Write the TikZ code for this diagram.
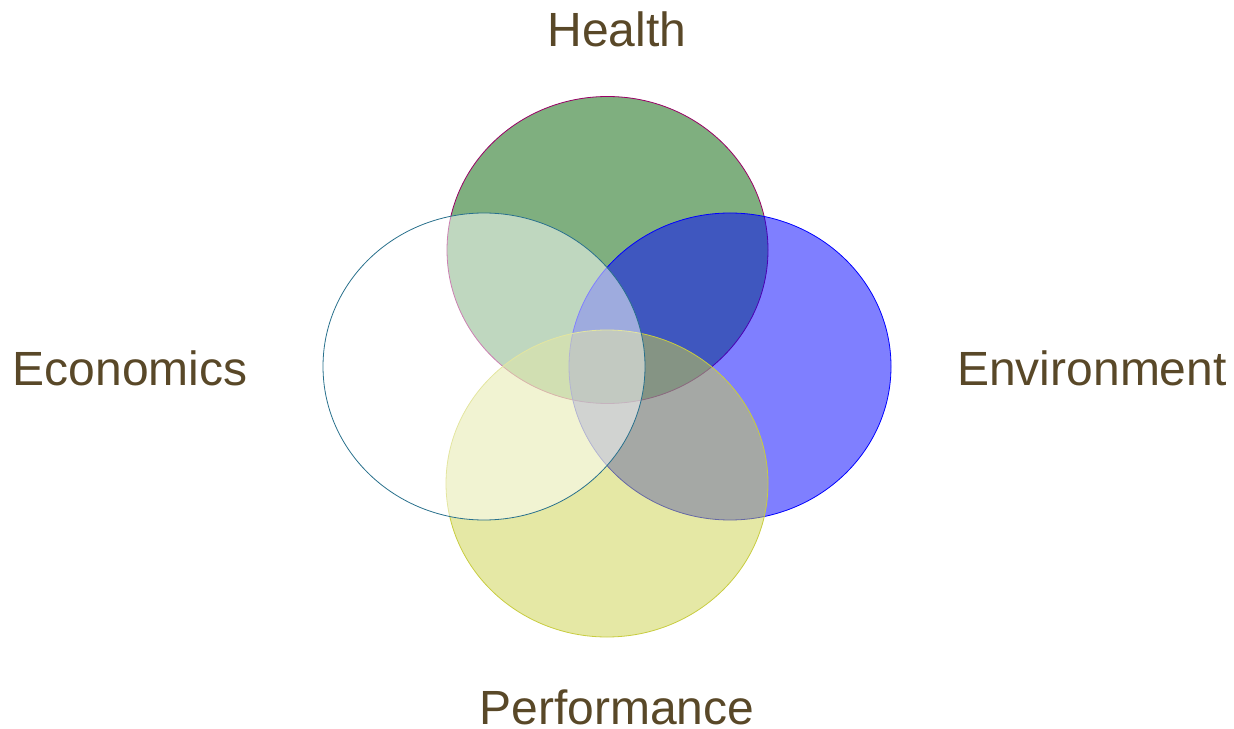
\documentclass[tikz,border=0pt]{standalone}
\usepackage{fontspec}
\setmainfont{Liberation Sans}
\definecolor{labelbrown}{RGB}{89,72,40}
\definecolor{healthgreen}{RGB}{0,96,0}
\definecolor{perfyellow}{RGB}{203,209,75}
\definecolor{perfline}{RGB}{200,204,64}
\definecolor{econteal}{RGB}{40,112,140}
\begin{document}
\begin{tikzpicture}[x=0.5pt,y=0.5pt,
		lbl/.style={anchor=base, text=labelbrown, font=\fontsize{24}{28}\selectfont, inner sep=0pt}]
			\useasboundingbox (0,0) rectangle (1234,728);

			% Health
			\filldraw[fill=healthgreen, fill opacity=0.5, draw=purple!80!blue, thin] (607.5,478) ellipse [x radius=160.5, y radius=153.5];

			% Environment
			\filldraw[fill=blue, fill opacity=0.5, draw=blue, thin] (730,361.5) ellipse [x radius=161, y radius=153.5];

			% Performance
			\filldraw[fill=perfyellow, fill opacity=0.5, draw=perfline, thin] (607,244.5) ellipse [x radius=161, y radius=153.5];

			% Economics
			\filldraw[fill=white, fill opacity=0.5, draw=econteal, thin] (484,361.5) ellipse [x radius=161, y radius=153.5];

			% Labels
			\node[lbl] (health) at (617,681) {Health};
			\node[lbl] (economics) at (130,342) {Economics};
			\node[lbl] (environment) at (1092,342) {Environment};
			\node[lbl] (performance) at (617,4) {Performance};
		\end{tikzpicture}
\end{document}
